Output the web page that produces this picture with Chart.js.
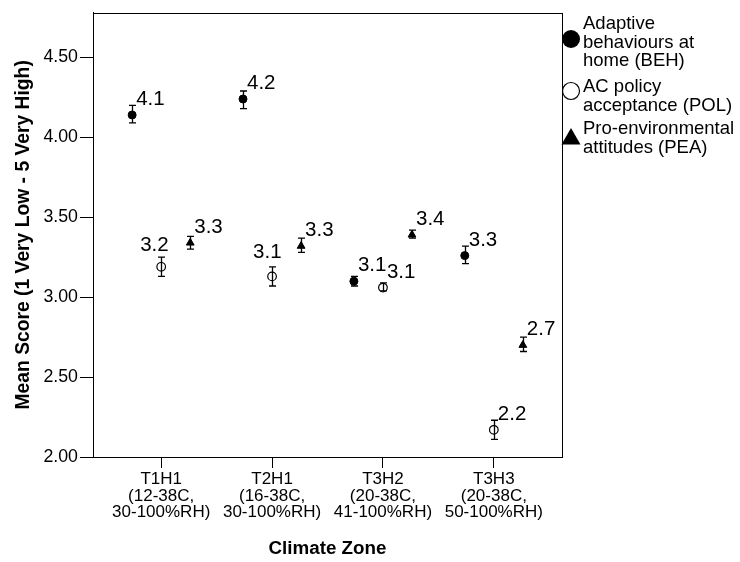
<!DOCTYPE html>
<html><head><meta charset="utf-8">
<script src="https://cdn.jsdelivr.net/npm/chart.js@4/dist/chart.umd.min.js"></script>
<style>html,body{margin:0;padding:0;background:#fff}#wrap{width:740px;height:562px;position:relative}</style>
</head><body><div id="wrap"><canvas id="c" width="740" height="562"></canvas></div>
<script>
// ---- data ----
const zones = ['T1H1', 'T2H1', 'T3H2', 'T3H3'];
const zoneTemp = ['(12-38C,', '(16-38C,', '(20-38C,', '(20-38C,'];
const zoneRH = ['30-100%RH)', '30-100%RH)', '41-100%RH)', '50-100%RH)'];
const legendBEH = ['Adaptive', 'behaviours at', 'home (BEH)'];
const legendPOL = ['AC policy', 'acceptance (POL)'];
const legendPEA = ['Pro-environmental', 'attitudes (PEA)'];
const behMean = [4.14, 4.24, 3.10, 3.26];
const behLow  = [4.09, 4.18, 3.07, 3.21];
const behHigh = [4.20, 4.29, 3.13, 3.32];
const polMean = [3.19, 3.13, 3.06, 2.17];
const polLow  = [3.13, 3.07, 3.04, 2.11];
const polHigh = [3.25, 3.19, 3.09, 2.23];
const peaMean = [3.34, 3.32, 3.39, 2.70];
const peaLow  = [3.30, 3.28, 3.37, 2.66];
const peaHigh = [3.38, 3.37, 3.42, 2.75];
const yTicks = [2.0, 2.5, 3.0, 3.5, 4.0, 4.5];

// ---- styling ----
const FONT = '"Liberation Sans", Arial, sans-serif';
const dodge = [-0.262, 0, 0.262];
const seriesMeans = [behMean, polMean, peaMean];
const seriesLow = [behLow, polLow, peaLow];
const seriesHigh = [behHigh, polHigh, peaHigh];
// label offsets [dx, dy] relative to the point (defaults, plus exceptions)
const labelOffset = (s, i) => {
  if (s === 1 && i === 0) return [-21, -16];
  if (s === 1 && i === 1) return [-19, -18];
  return [4, -10];
};

const mk = (arr, s) => arr.map((v, i) => ({x: i + dodge[s], y: v}));

const errorPlugin = {
  id: 'errs',
  afterDatasetsDraw(chart) {
    const ctx = chart.ctx, xs = chart.scales.x, ys = chart.scales.y;
    ctx.save();
    ctx.strokeStyle = '#000'; ctx.lineWidth = 1.3;
    for (let s = 0; s < 3; s++) {
      for (let i = 0; i < zones.length; i++) {
        const x = Math.round(xs.getPixelForValue(i + dodge[s])) + 0.5;
        const y1 = ys.getPixelForValue(seriesLow[s][i]);
        const y2 = ys.getPixelForValue(seriesHigh[s][i]);
        ctx.beginPath();
        ctx.moveTo(x, y1); ctx.lineTo(x, y2);
        ctx.moveTo(x - 3.5, y1); ctx.lineTo(x + 3.5, y1);
        ctx.moveTo(x - 3.5, y2); ctx.lineTo(x + 3.5, y2);
        ctx.stroke();
      }
    }
    // value labels
    ctx.fillStyle = '#000';
    ctx.font = '20.5px ' + FONT;
    ctx.textAlign = 'left'; ctx.textBaseline = 'alphabetic';
    for (let s = 0; s < 3; s++) {
      for (let i = 0; i < zones.length; i++) {
        const v = seriesMeans[s][i];
        const x = xs.getPixelForValue(i + dodge[s]);
        const y = ys.getPixelForValue(v);
        const [dx, dy] = labelOffset(s, i);
        ctx.fillText(v.toFixed(1), x + dx, y + dy);
      }
    }
    ctx.restore();
  },
  afterDraw(chart) {
    const ctx = chart.ctx, a = chart.chartArea;
    ctx.save();
    ctx.strokeStyle = '#000'; ctx.lineWidth = 1;
    ctx.strokeRect(Math.round(a.left) + 0.5, Math.round(a.top) + 0.5,
                   Math.round(a.right - a.left), Math.round(a.bottom - a.top));
    // legend
    const tx = 583;
    ctx.fillStyle = '#000';
    ctx.font = '18.5px ' + FONT;
    ctx.textAlign = 'left'; ctx.textBaseline = 'alphabetic';
    const groups = [
      {lines: legendBEH, base: 29, my: 39, kind: 'filled'},
      {lines: legendPOL, base: 92, my: 91, kind: 'hollow'},
      {lines: legendPEA, base: 134, my: 137, kind: 'tri'}
    ];
    groups.forEach(g => {
      g.lines.forEach((t, k) => ctx.fillText(t, tx, g.base + k * 18.5));
      const mx = 571;
      ctx.beginPath();
      if (g.kind === 'filled') {
        ctx.arc(mx, g.my, 9, 0, Math.PI * 2); ctx.fill();
      } else if (g.kind === 'hollow') {
        ctx.arc(mx, g.my, 8.5, 0, Math.PI * 2); ctx.lineWidth = 1.2; ctx.stroke();
      } else {
        ctx.moveTo(mx, g.my - 9); ctx.lineTo(mx + 9.5, g.my + 7.5); ctx.lineTo(mx - 9.5, g.my + 7.5);
        ctx.closePath(); ctx.fill();
      }
    });
    ctx.restore();
  }
};

new Chart(document.getElementById('c'), {
  type: 'scatter',
  data: {
    datasets: [
      {data: mk(behMean, 0), pointStyle: 'circle', pointRadius: 4, backgroundColor: '#000', borderColor: '#000', borderWidth: 1},
      {data: mk(polMean, 1), pointStyle: 'circle', pointRadius: 4.3, backgroundColor: 'rgba(0,0,0,0)', borderColor: '#000', borderWidth: 1.2},
      {data: mk(peaMean, 2), pointStyle: 'triangle', pointRadius: 4.5, backgroundColor: '#000', borderColor: '#000', borderWidth: 1}
    ]
  },
  options: {
    responsive: false, animation: false,
    layout: {padding: {top: 7, right: 178, bottom: 0, left: 0}},
    plugins: {legend: {display: false}, tooltip: {enabled: false}},
    scales: {
      x: {
        type: 'linear', min: -0.615, max: 3.615,
        afterBuildTicks: s => { s.ticks = zones.map((z, i) => ({value: i})); },
        afterFit: s => { s.height = 105; },
        ticks: {
          autoSkip: false, maxRotation: 0, color: '#000', padding: 3,
          font: {family: FONT, size: 17, lineHeight: 0.98},
          callback: v => [zones[v], zoneTemp[v], zoneRH[v]]
        },
        grid: {drawOnChartArea: false, drawTicks: true, tickLength: 11, color: '#000'},
        border: {color: '#000'},
        title: {display: true, text: 'Climate Zone', color: '#000',
                font: {family: FONT, size: 18.8, weight: 'bold', lineHeight: 1.2},
                padding: {top: 0, bottom: 2}}
      },
      y: {
        min: 2, max: 4.78,
        afterBuildTicks: s => { s.ticks = yTicks.map(v => ({value: v})); },
        afterFit: s => { s.width = 93; },
        ticks: {color: '#000', padding: 2, font: {family: FONT, size: 17.8},
                callback: v => Number(v).toFixed(2)},
        grid: {drawOnChartArea: false, drawTicks: true, tickLength: 13, color: '#000'},
        border: {color: '#000'},
        title: {display: true, text: 'Mean Score (1 Very Low - 5 Very High)', color: '#000',
                font: {family: FONT, size: 19.3, weight: 'bold', lineHeight: 1.2},
                padding: {top: 12, bottom: 0}}
      }
    }
  },
  plugins: [errorPlugin]
});
</script></body></html>
